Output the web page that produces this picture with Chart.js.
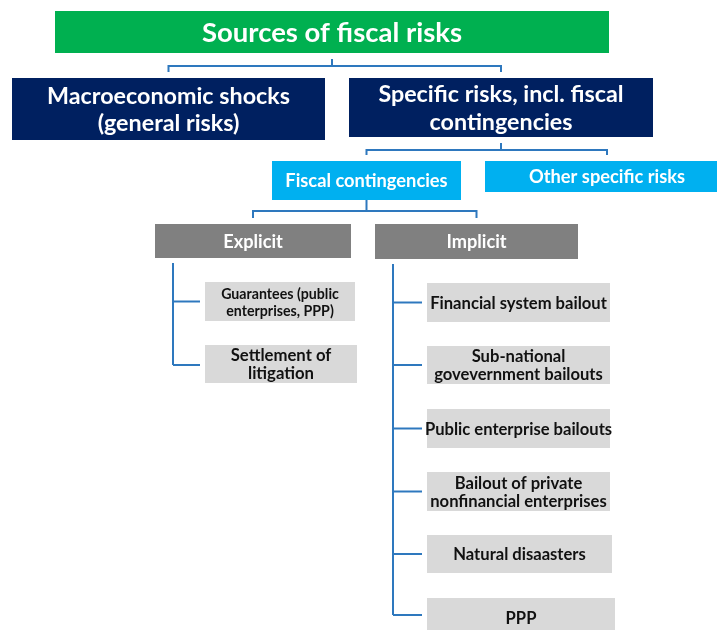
<!DOCTYPE html>
<html>
<head>
<meta charset="utf-8">
<title>Sources of fiscal risks</title>
<script src="https://cdn.jsdelivr.net/npm/chart.js@4.4.1/dist/chart.umd.min.js"></script>
<style>
  html, body { margin: 0; padding: 0; background: #fff; }
  #wrap { width: 717px; height: 630px; }
</style>
</head>
<body>
<div id="wrap"><canvas id="myChart" width="717" height="630"></canvas></div>
<script>
// the tree's texts, level by level
var rootLabel = ['Sources of fiscal risks'];
var riskGroups = [['Macroeconomic shocks', '(general risks)'], ['Specific risks, incl. fiscal', 'contingencies']];
var specificRisks = ['Fiscal contingencies', 'Other specific risks'];
var contingencyTypes = ['Explicit', 'Implicit'];
var explicitItems = [['Guarantees (public', 'enterprises, PPP)'], ['Settlement of', 'litigation']];
var implicitItems = ['Financial system bailout', ['Sub-national', 'govevernment bailouts'], 'Public enterprise bailouts',
    ['Bailout of private', 'nonfinancial enterprises'], 'Natural disaasters', 'PPP'];

(function () {
    "use strict";

    var LINE = '#2E78BE';
    var FONT = 'Lato, "Open Sans", sans-serif';

    /* box styles per level */
    var styles = {
        root:   { fill: '#00B050', color: '#fff', size: 27.5 },
        group:  { fill: '#002060', color: '#fff', size: 23.3, lh: 27 },
        spec:   { fill: '#00B0F0', color: '#fff', size: 18.3 },
        kind:   { fill: '#808080', color: '#fff', size: 18.2 },
        item:   { fill: '#D9D9D9', color: '#111', size: 16.6, lh: 18 }
    };

    /* layout in a 717 x 630 frame: [x0, x1, y0, y1] */
    var nodes = [];
    function node(label, style, box, extra) {
        var n = { label: label, style: style, x0: box[0], x1: box[1], y0: box[2], y1: box[3] };
        for (var k in extra) n[k] = extra[k];
        n.cx = (n.x0 + n.x1) / 2;
        nodes.push(n);
        return n;
    }

    var root = node(rootLabel[0], styles.root, [55, 609, 11, 53]);
    var macro = node(riskGroups[0], styles.group, [12, 325, 78, 140]);
    var specific = node(riskGroups[1], styles.group, [349, 653, 78, 137], { lh: 28 });
    var fiscal = node(specificRisks[0], styles.spec, [272, 461, 161, 200]);
    var other = node(specificRisks[1], styles.spec, [485, 729, 161, 192]);
    var explicit = node(contingencyTypes[0], styles.kind, [155, 351, 224, 258]);
    var implicit = node(contingencyTypes[1], styles.kind, [375, 578, 224, 259]);

    var explicitBoxes = [[205, 355, 282, 321], [205, 357, 345, 383]];
    var explicitNodes = explicitItems.map(function (lbl, i) {
        return node(lbl, styles.item, explicitBoxes[i], i === 0 ? { size: 14.2, lh: 17 } : { size: 16.7 });
    });
    var implicitBoxes = [[427, 610, 283, 322], [427, 610, 346, 384], [427, 610, 409, 448],
        [427, 610, 472, 511], [427, 612, 535, 573], [427, 615, 598, 637]];
    var implicitNodes = implicitItems.map(function (lbl, i) {
        return node(lbl, styles.item, implicitBoxes[i]);
    });

    /* connector segments, built from the boxes */
    var segments = [];
    function bracket(parent, kids, barY, gapTop, gapBottom) {
        segments.push([[parent.cx, parent.y1 + gapTop], [parent.cx, barY]]);
        segments.push([[kids[0].cx, kids[0].y0 - gapBottom], [kids[0].cx, barY],
            [kids[kids.length - 1].cx, barY], [kids[kids.length - 1].cx, kids[kids.length - 1].y0 - gapBottom]]);
    }
    function sideTree(parent, kids, trunkX, top) {
        var last = kids[kids.length - 1];
        var lastY = (last.y0 + Math.min(last.y1, 630)) / 2 + 1;
        segments.push([[trunkX, top], [trunkX, lastY]]);
        kids.forEach(function (k, i) {
            var y = i === kids.length - 1 ? lastY : (k.y0 + k.y1) / 2;
            segments.push([[trunkX, y], [k.x0 - 5, y]]);
        });
    }
    bracket(root, [macro, specific], 66, 6, 6);
    bracket(specific, [fiscal, other], 150, 6, 6);
    bracket(fiscal, [explicit, implicit], 211, 0, 6);
    sideTree(explicit, explicitNodes, 173, 263);
    sideTree(implicit, implicitNodes, 393, 264);

    var datasets = segments.map(function (seg) {
        return {
            type: 'line',
            data: seg.map(function (p) { return { x: p[0], y: p[1] }; }),
            borderColor: LINE,
            borderWidth: 2,
            pointRadius: 0,
            tension: 0,
            fill: false,
            clip: false
        };
    });

    var boxPlugin = {
        id: 'treeBoxes',
        beforeDatasetsDraw: function (chart) {
            var ctx = chart.ctx, xs = chart.scales.x, ys = chart.scales.y;
            ctx.save();
            nodes.forEach(function (n) {
                var st = n.style;
                var x0 = xs.getPixelForValue(n.x0), x1 = xs.getPixelForValue(n.x1);
                var y0 = ys.getPixelForValue(n.y0), y1 = ys.getPixelForValue(n.y1);
                ctx.fillStyle = st.fill;
                ctx.fillRect(x0, y0, x1 - x0, y1 - y0);

                var size = n.size || st.size, lh = n.lh || st.lh || size * 1.2;
                var lines = Array.isArray(n.label) ? n.label : [n.label];
                var cy = (n.y0 + n.y1) / 2 + 1;
                if (n.y1 > 630) cy = n.y0 + 21;
                ctx.font = 'bold ' + size + 'px ' + FONT;
                ctx.fillStyle = st.color;
                ctx.textAlign = 'center';
                ctx.textBaseline = 'middle';
                lines.forEach(function (t, i) {
                    var y = cy + (i - (lines.length - 1) / 2) * lh;
                    ctx.fillText(t, xs.getPixelForValue(n.cx), ys.getPixelForValue(y));
                });
            });
            ctx.restore();
        }
    };

    var ctx = document.getElementById('myChart').getContext('2d');
    var chart = new Chart(ctx, {
        type: 'scatter',
        data: { datasets: datasets },
        options: {
            responsive: false,
            animation: false,
            layout: { padding: 0 },
            scales: {
                x: { type: 'linear', min: 0, max: 717, display: false },
                y: { type: 'linear', min: 0, max: 630, reverse: true, display: false }
            },
            plugins: {
                legend: { display: false },
                tooltip: { enabled: false }
            }
        },
        plugins: [boxPlugin]
    });
})();
</script>
</body>
</html>
